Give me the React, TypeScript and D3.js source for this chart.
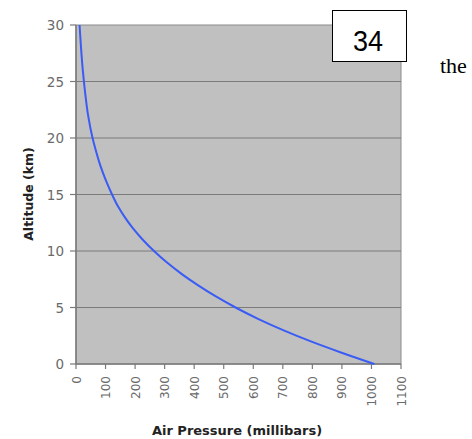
import React from "react";
import * as d3 from "d3";

const altitudesKm = [0, 1, 2, 3, 4, 5, 6, 7, 8, 9, 10, 11, 12, 13, 14, 15, 16, 17, 18, 19, 20, 22, 24, 26, 28, 30];
const pressuresMb = [1010, 899, 795, 701, 616, 540, 472, 411, 356, 307, 264, 226, 193, 165, 141, 122, 105, 90, 77, 66, 56, 41, 31, 23, 17, 12];
const xTicks = [0, 100, 200, 300, 400, 500, 600, 700, 800, 900, 1000, 1100];
const yTicks = [0, 5, 10, 15, 20, 25, 30];

const W = 472;
const H = 439;
const left = 76, right = 401, top = 25, bottom = 364;

export default function App() {
  const x = d3.scaleLinear().domain([0, 1100]).range([left, right]);
  const y = d3.scaleLinear().domain([0, 30]).range([bottom, top]);
  const pts = altitudesKm.map((a, i) => [pressuresMb[i], a] as [number, number]);
  const line = d3.line<[number, number]>().x(d => x(d[0])).y(d => y(d[1])).curve(d3.curveMonotoneY);
  const font = "'Liberation Sans', Arial, sans-serif";
  const wide = "'DejaVu Sans', Verdana, sans-serif";
  return (
    <svg width={W} height={H} style={{ position: "absolute", left: 0, top: 0, background: "#fff" }}>
      <rect x={left} y={top} width={right - left} height={bottom - top} fill="#c0c0c0" stroke="#8c8c8c" strokeWidth={1} />
      {yTicks.filter(t => t > 0 && t < 30).map(t => (
        <line key={t} x1={left} x2={right} y1={y(t)} y2={y(t)} stroke="#7a7a7a" strokeWidth={1.2} />
      ))}
      <line x1={left} x2={left} y1={top} y2={bottom} stroke="#7a7a7a" strokeWidth={1.5} />
      <line x1={left} x2={right} y1={bottom} y2={bottom} stroke="#7a7a7a" strokeWidth={1.5} />
      {yTicks.map(t => (
        <g key={t}>
          <line x1={left - 6} x2={left} y1={y(t)} y2={y(t)} stroke="#7a7a7a" strokeWidth={1.2} />
          <text x={64} y={y(t) + 5} textAnchor="end" fontFamily={wide} fontSize={13.5} fill="#6a6a6a">{t}</text>
        </g>
      ))}
      {xTicks.map(t => (
        <g key={t}>
          <line x1={x(t)} x2={x(t)} y1={bottom} y2={bottom + 5} stroke="#7a7a7a" strokeWidth={1.2} />
          <text transform={`translate(${x(t) + 4.5},${bottom + 12}) rotate(-90)`} textAnchor="end" fontFamily={wide} fontSize={12} fill="#6a6a6a">{t}</text>
        </g>
      ))}
      <path d={line(pts) || ""} fill="none" stroke="#3a5cf5" strokeWidth={2} />
      <text x={237} y={435} textAnchor="middle" fontFamily={wide} fontSize={13} fontWeight="bold" fill="#222">Air Pressure (millibars)</text>
      <text transform={`translate(33,${194}) rotate(-90)`} textAnchor="middle" fontFamily={wide} fontSize={12.5} fontWeight="bold" fill="#222">Altitude (km)</text>
      <rect x={332.5} y={10.5} width={74} height={51} fill="#fff" stroke="#000" strokeWidth={1} />
      <text x={368} y={51} textAnchor="middle" fontFamily={font} fontSize={30} fill="#000" transform="translate(368,0) scale(0.9,1) translate(-368,0)">34</text>
      <text x={440} y={73} fontFamily="'Liberation Serif', 'Times New Roman', serif" fontSize={22} fill="#000">the</text>
    </svg>
  );
}
